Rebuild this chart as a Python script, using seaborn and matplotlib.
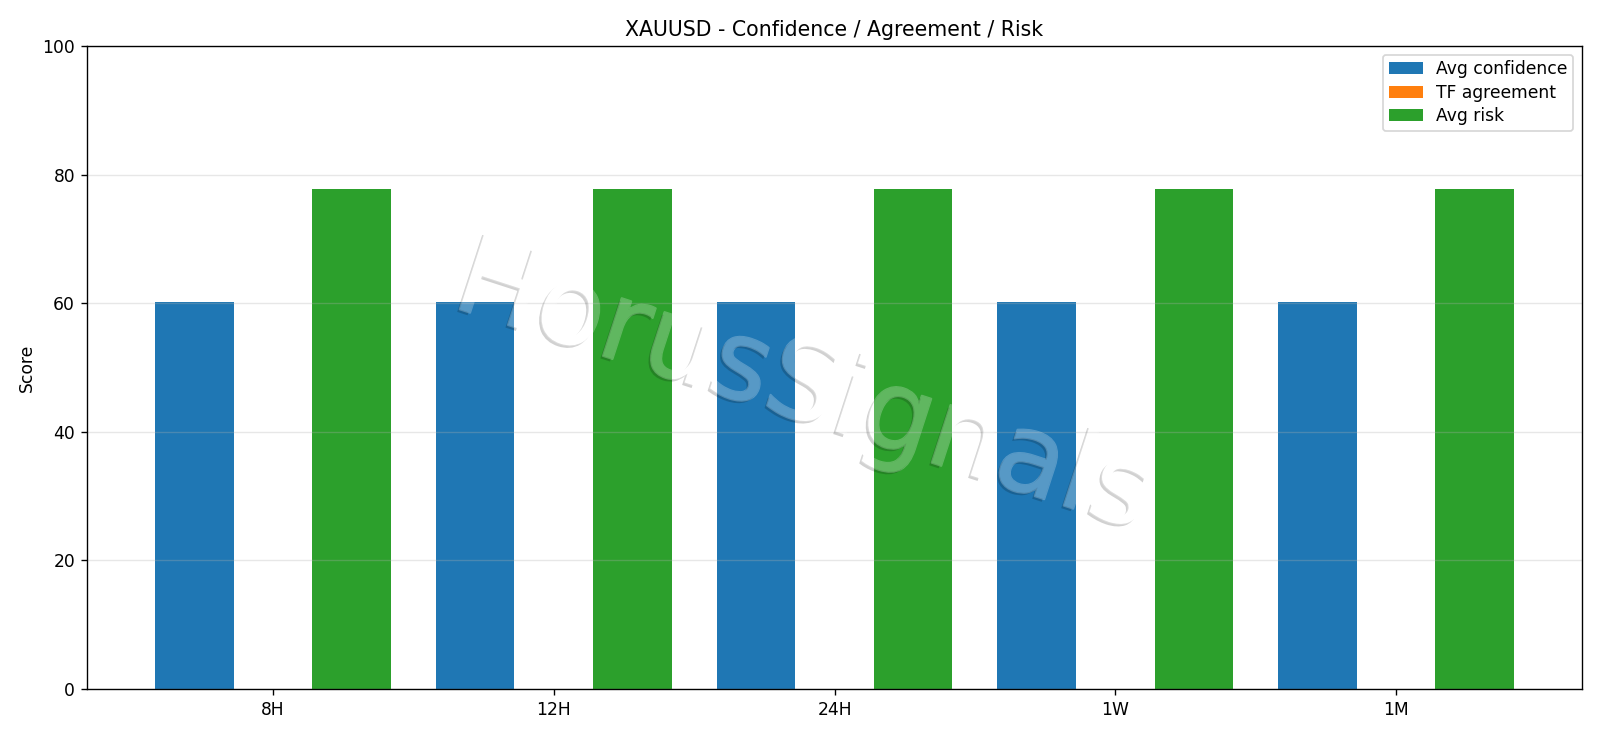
import numpy as np
import pandas as pd
import matplotlib
matplotlib.use("Agg")
import matplotlib.pyplot as plt
from matplotlib.patheffects import AbstractPathEffect
from matplotlib.path import Path
from matplotlib.transforms import Affine2D, IdentityTransform, TransformedPath
import seaborn as sns

# ---- data ----
timeframes = ["8H", "12H", "24H", "1W", "1M"]
avg_confidence = [60.25, 60.25, 60.25, 60.25, 60.25]
tf_agreement = [0.0, 0.0, 0.0, 0.0, 0.0]
avg_risk = [77.7, 77.7, 77.7, 77.7, 77.7]
series_names = ["Avg confidence", "TF agreement", "Avg risk"]
series_colors = ["#1f77b4", "#ff7f0e", "#2ca02c"]
title_text = "XAUUSD - Confidence / Agreement / Risk"
watermark_text = "HorusSignals"

rows = []
for name, vals in zip(series_names, [avg_confidence, tf_agreement, avg_risk]):
    for tf, v in zip(timeframes, vals):
        rows.append({"timeframe": tf, "metric": name, "score": v})
df = pd.DataFrame(rows)

DPI = 123


class WatermarkEffect(AbstractPathEffect):
    """Translucent fill with a slightly dilated edge and a drop shadow that
    only shows outside the glyphs (like a layer composited once)."""

    def __init__(self, shadow_px=(-2.5, -2.5), shadow_alpha=0.18,
                 fill_alpha=0.25, grow_px=2.0):
        super().__init__(offset=(0, 0))
        self._sdx, self._sdy = shadow_px
        self._salpha = shadow_alpha
        self._falpha = fill_alpha
        self._grow = grow_px

    def draw_path(self, renderer, gc, tpath, affine, rgbFace=None):
        glyph = affine.transform_path(tpath)
        polys = glyph.to_polygons(closed_only=True)

        def area(p):
            x, y = p[:, 0], p[:, 1]
            return 0.5 * np.sum(x * np.roll(y, -1) - np.roll(x, -1) * y)

        areas = [area(p) for p in polys] if polys else [1.0]
        outer_sign = np.sign(areas[int(np.argmax(np.abs(areas)))])
        W, H = renderer.get_canvas_width_height()
        big = 10 * max(W, H)
        rect = np.array([[-big, -big], [big, -big], [big, big], [-big, big], [-big, -big]], float)
        if outer_sign > 0:
            rect = rect[::-1]
        outside = TransformedPath(Path.make_compound_path(Path(rect, closed=True), glyph),
                                  IdentityTransform())

        # shadow (only outside the glyphs)
        gs = renderer.new_gc()
        gs.copy_properties(gc)
        gs.set_clip_path(outside)
        gs.set_linewidth(0)
        gs.set_foreground("black")
        gs.set_alpha(self._salpha)
        renderer.draw_path(gs, tpath, affine + Affine2D().translate(self._sdx, self._sdy),
                           (0, 0, 0, 1))
        gs.restore()

        # main translucent fill
        gf = renderer.new_gc()
        gf.copy_properties(gc)
        gf.set_linewidth(0)
        gf.set_foreground("white")
        gf.set_alpha(self._falpha)
        renderer.draw_path(gf, tpath, affine, (1, 1, 1, 1))
        gf.restore()

        # edge growth: stroke clipped to outside so it never overlaps the fill
        ge = renderer.new_gc()
        ge.copy_properties(gc)
        ge.set_clip_path(outside)
        ge.set_linewidth(self._grow * 72.0 / DPI)
        ge.set_foreground("white")
        ge.set_alpha(self._falpha)
        ge.set_joinstyle("round")
        renderer.draw_path(ge, tpath, affine, None)
        ge.restore()


fig = plt.figure(figsize=(1600 / DPI, 738 / DPI), dpi=DPI)
ax = fig.add_axes([0.0544, 0.0664, 0.98875 - 0.0544, 0.9377 - 0.0664])

sns.barplot(
    data=df, x="timeframe", y="score", hue="metric",
    order=timeframes, hue_order=series_names,
    palette=series_colors, saturation=1, width=0.84,
    linewidth=0, errorbar=None, ax=ax,
)

ax.set_xlim(-0.662, 4.662)
ax.set_ylim(0, 100)
ax.set_yticks([0, 20, 40, 60, 80, 100])
ax.set_xlabel("")
ax.set_ylabel("Score")
ax.set_title(title_text, fontsize=12)
ax.yaxis.grid(True, alpha=0.3)
ax.xaxis.grid(False)
sns.move_legend(ax, "upper right", title=None, labelspacing=0.33, borderpad=0.33)

fig.text(
    0.502, 0.473, watermark_text, fontsize=65, rotation=-18,
    ha="center", va="center", color="white",
    path_effects=[WatermarkEffect()],
    zorder=10,
)

fig.savefig("out.png", dpi=DPI)
